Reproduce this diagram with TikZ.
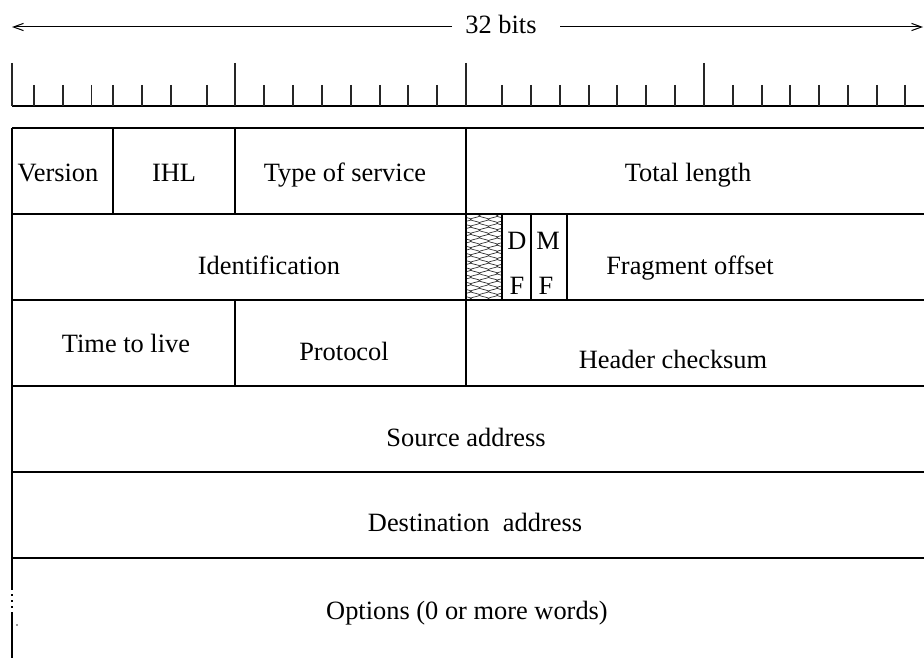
\documentclass[tikz,border=0pt]{standalone}
\usepackage{fontspec}
\setmainfont{Liberation Serif}
\usetikzlibrary{arrows.meta}
\begin{document}
\begin{tikzpicture}[x=0.5pt,y=-0.5pt,
  frame/.style={line width=0.65pt},
  tick/.style={line width=0.55pt, black!85},
  lbl/.style={font=\fontsize{13.2}{15}\selectfont, inner sep=0pt, anchor=base},
  span/.style={line width=0.5pt, -{Straight Barb[length=5pt,width=3.6pt]}},
  mesh/.style={line width=0.35pt, black!80}
]
\useasboundingbox (0,0) rectangle (924,658);

% word width indicator
\coordinate (arrL) at (12,27);
\coordinate (arrR) at (923,27);
\coordinate (gapL) at (452,27);
\coordinate (gapR) at (560,27);
\node[lbl] (wordwidth) at (501,33.5) {32 bits};
\draw[span] (gapL) -- (arrL);
\draw[span] (gapR) -- (arrR);

% bit ruler
\draw[frame] (12,106) -- (924,106);
\foreach \x in {12,235,466,704} \draw[tick] (\x,63) -- (\x,106);
\foreach \x in {34,63,91.5,113,142,171,207,
                264,293,322,351,380,408,437,
                502,531,560,589,617,646,675,
                733,762,790,819,848,877,905}
  \draw[tick] (\x,85) -- (\x,106);

% header rows
\foreach \y in {128,214,300,386,472,558} \draw[frame] (12,\y) -- (924,\y);
\draw[frame] (12,128) -- (12,590);
\draw[frame] (12,612) -- (12,658);
\foreach \y in {595,601,607} \fill (11.3,\y-0.9) rectangle (12.7,\y+0.9);
\fill[black!40] (16.3,624.3) rectangle (17.7,625.7);

% field separators
\draw[frame] (113,128) -- (113,214);
\draw[frame] (235,128) -- (235,214);
\draw[frame] (466,128) -- (466,386);
\draw[frame] (235,300) -- (235,386);
\draw[frame] (502,214) -- (502,300);
\draw[frame] (531,214) -- (531,300);
\draw[frame] (567,214) -- (567,300);

% reserved flag bit, net-like fill
\begin{scope}
  \clip (466,214) rectangle (502,300);
  \foreach \c/\ph in {466.5/180,475/0,484/180,493/0,501.5/180}
    \draw[mesh] plot[domain=0:86, samples=120, variable=\t]
      ({\c + 4.8*sin(\t*50 + \ph)}, {\t+214});
\end{scope}
\draw[frame] (466,214) rectangle (502,300);

% field names
\node[lbl] (version) at (58,181) {Version};
\node[lbl] (ihl) at (174,181) {IHL};
\node[lbl] (tos) at (345,181) {Type of service};
\node[lbl] (totlen) at (688,181) {Total length};
\node[lbl] (ident) at (269,274) {Identification};
\node[lbl] (dfD) at (517,249) {D};
\node[lbl] (dfF) at (517,294) {F};
\node[lbl] (mfM) at (548,249) {M};
\node[lbl] (mfF) at (546,294) {F};
\node[lbl] (fragoff) at (690,274) {Fragment offset};
\node[lbl] (ttl) at (126,352) {Time to live};
\node[lbl] (proto) at (344,360) {Protocol};
\node[lbl] (hcsum) at (673,368) {Header checksum};
\node[lbl] (src) at (466,446) {Source address};
\node[lbl] (dst) at (475,531) {Destination\ \ address};
\node[lbl] (opts) at (467,619) {Options (0 or more words)};
\end{tikzpicture}
\end{document}
